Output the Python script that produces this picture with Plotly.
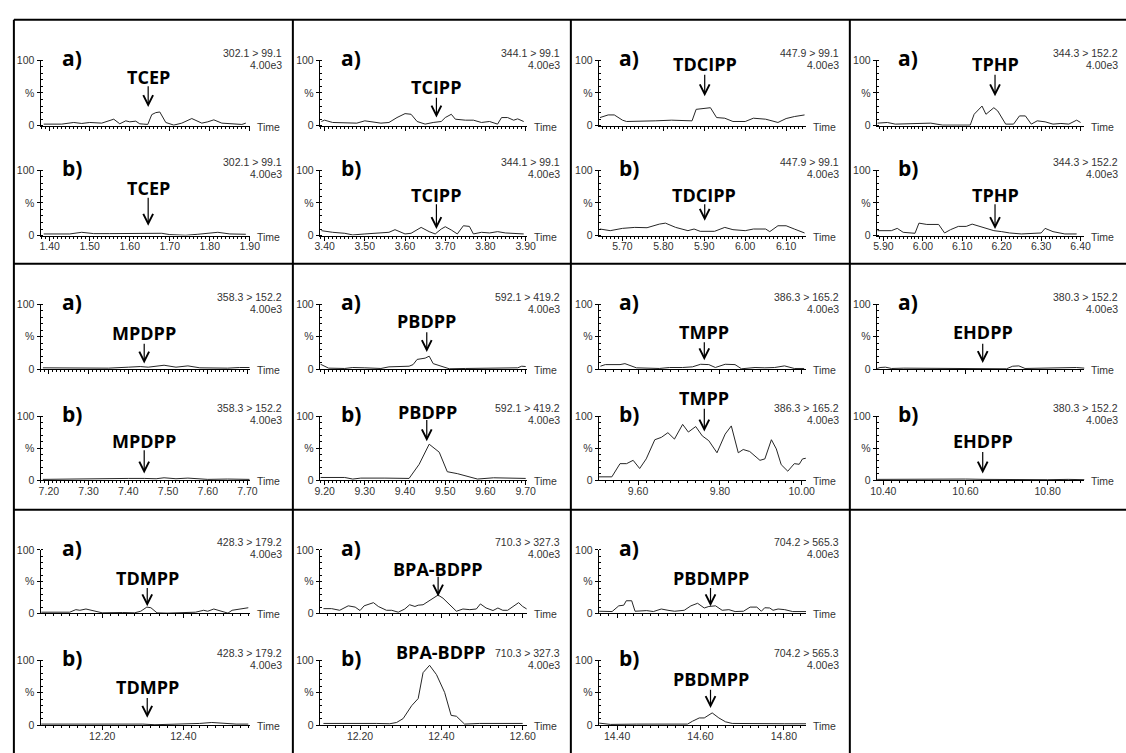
import plotly.graph_objects as go

W, H = 1126, 753

# ---- compounds, MRM transitions and axis settings ----
compounds = ["TCEP", "TCIPP", "TDCIPP", "TPHP", "MPDPP", "PBDPP",
             "TMPP", "EHDPP", "TDMPP", "BPA-BDPP", "PBDMPP"]
transitions = ["302.1 > 99.1", "344.1 > 99.1", "447.9 > 99.1", "344.3 > 152.2",
               "358.3 > 152.2", "592.1 > 419.2", "386.3 > 165.2", "380.3 > 152.2",
               "428.3 > 179.2", "710.3 > 327.3", "704.2 > 565.3"]
intensity_scale = "4.00e3"
time_ranges = [[1.377, 1.9016], [3.388, 3.9027], [5.642, 6.1497], [5.883, 6.4098],
               [7.179, 7.7075], [9.188, 9.7027], [9.504, 10.0117], [10.384, 10.8897],
               [12.048, 12.5654], [12.101, 12.6101], [14.356, 14.8541]]
major_steps = [0.1, 0.1, 0.1, 0.1, 0.1, 0.1, 0.2, 0.2, 0.2, 0.2, 0.2]
y_ticks = [0, 50, 100]
y_ticktext = ["0", "%", "100"]

# retention time marked by the arrow in each panel
arrow_times = [1.646, 3.678, 5.901, 6.183, 7.44, 9.454, 9.762, 10.642, 12.311, 12.392, 14.624]
# compound label / arrow tail / arrow tip heights (% units) for trace a) and b)
label_y_a = [74.5, 59, 93.7, 93.7, 55.6, 74.6, 58, 58, 56.5, 70.6, 56.5]
tail_y_a = [62.5, 45, 80, 80, 41.6, 59.4, 44, 41.6, 42.3, 60.3, 42.3]
tip_y_a = [28.5, 12.6, 45, 45, 8.7, 26.3, 13.7, 9.6, 11.3, 26.8, 11.3]
label_y_b = [72.5, 62.4, 61.5, 61.5, 60.3, 106, 127.5, 60.3, 58.1, 112.6, 72]
tail_y_b = [60, 50, 50, 50, 48.8, 96, 113.6, 46, 44, None, 57]
tip_y_b = [15, 10, 22.5, 10, 10.3, 60.6, 75.8, 10.3, 11.2, None, 26.5]
label_x_b = [1.646, 3.678, 5.899, 6.183, 7.44, 9.455, 9.761, 10.642, 12.311, 12.40, 14.624]

# ---- chromatogram traces (time in min, relative intensity in %) ----
tcep_a_t = [1.385, 1.40, 1.43, 1.46, 1.48, 1.50, 1.53, 1.56, 1.575, 1.59, 1.60, 1.615, 1.625, 1.635, 1.645,
            1.655, 1.665, 1.675, 1.69, 1.71, 1.73, 1.755, 1.78, 1.795, 1.81, 1.83, 1.86, 1.88, 1.89]
tcep_a_y = [2.5, 2.5, 2.5, 5, 3.5, 5, 4, 10, 3, 7.5, 6, 7, 3, 2.5, 2,
            17, 20, 21, 5, 1, 4, 11, 4, 6, 9, 4, 3, 2, 4]
tcep_b_t = [1.385, 1.42, 1.45, 1.48, 1.51, 1.55, 1.60, 1.62, 1.65, 1.68, 1.70, 1.72, 1.74, 1.77,
            1.80, 1.82, 1.85, 1.87, 1.89]
tcep_b_y = [2.5, 2, 2.5, 5, 3, 3, 3, 3.5, 4, 3.5, 1.5, 1, 0.5, 2, 4, 5, 2.5, 2, 2]

tcipp_a_t = [3.392, 3.40, 3.42, 3.45, 3.48, 3.50, 3.52, 3.54, 3.56, 3.58, 3.60, 3.615, 3.63, 3.65, 3.67,
             3.69, 3.70, 3.715, 3.725, 3.75, 3.77, 3.79, 3.81, 3.83, 3.84, 3.855, 3.87, 3.88, 3.895]
tcipp_a_y = [6.5, 8.5, 5, 4, 4, 7.5, 6, 4, 5, 12.5, 18.5, 17.5, 6.5, 2.5, 5,
             6.5, 12.5, 17.5, 10, 8.5, 8.5, 5, 6.5, 2.5, 12.5, 12.5, 8.5, 10.5, 6.5]
tcipp_b_t = [3.392, 3.42, 3.45, 3.47, 3.50, 3.53, 3.56, 3.575, 3.60, 3.615, 3.64, 3.66, 3.675, 3.69,
             3.70, 3.715, 3.73, 3.745, 3.76, 3.77, 3.79, 3.81, 3.83, 3.85, 3.87, 3.895]
tcipp_b_y = [7.5, 5, 3.5, 1, 2.5, 4, 5, 9, 2.5, 3.5, 12.5, 6, 2.5, 10,
             13.5, 8.5, 2.5, 15, 14, 2.5, 5, 4, 6, 4, 3, 2.5]

tdcipp_a_t = [5.645, 5.665, 5.68, 5.70, 5.71, 5.73, 5.75, 5.78, 5.82, 5.85, 5.87, 5.88, 5.90, 5.915,
              5.93, 5.95, 5.97, 6.00, 6.02, 6.05, 6.08, 6.10, 6.12, 6.145]
tdcipp_a_y = [12.5, 16.5, 16.5, 8.5, 6.5, 6.5, 7.5, 7.5, 8.5, 8.5, 7.5, 25, 26, 27.5,
              12.5, 11.5, 6.5, 6.5, 11.5, 10, 5, 11, 14, 16.5]
tdcipp_b_t = [5.645, 5.67, 5.70, 5.73, 5.76, 5.79, 5.805, 5.83, 5.86, 5.875, 5.89, 5.91, 5.925, 5.95,
              5.97, 6.00, 6.02, 6.05, 6.06, 6.08, 6.10, 6.12, 6.145]
tdcipp_b_y = [10, 7.5, 11, 12.5, 12, 17.5, 19, 12.5, 7.5, 10, 6.5, 6.5, 6.5, 12.5,
              9, 7.5, 10, 10, 6, 15, 15, 10, 4]

tphp_a_t = [5.885, 5.91, 5.93, 5.96, 5.99, 6.02, 6.05, 6.08, 6.12, 6.13, 6.15, 6.16, 6.18, 6.19,
            6.21, 6.23, 6.245, 6.26, 6.275, 6.29, 6.31, 6.33, 6.35, 6.37, 6.39, 6.40]
tphp_a_y = [4, 5, 2.5, 3, 4, 4, 1, 1, 1, 17.5, 30, 17.5, 27.5, 22.5,
            2.5, 2.5, 15, 15, 2.5, 7.5, 6, 2.5, 3.5, 2.5, 8.5, 5]
tphp_b_t = [5.885, 5.92, 5.935, 5.95, 5.98, 5.99, 6.01, 6.04, 6.055, 6.07, 6.09, 6.11, 6.125, 6.14,
            6.16, 6.18, 6.20, 6.22, 6.25, 6.28, 6.30, 6.31, 6.33, 6.36, 6.39]
tphp_b_y = [7.5, 7.5, 11, 5, 3.5, 19, 17, 17, 4, 9, 14, 14, 17.5, 15,
            11, 7.5, 6, 4, 2.5, 4, 4, 11, 6, 2.5, 2.5]

mpdpp_a_t = [7.185, 7.22, 7.25, 7.30, 7.35, 7.40, 7.43, 7.45, 7.47, 7.49, 7.52, 7.55, 7.58, 7.62,
             7.65, 7.68, 7.705]
mpdpp_a_y = [2, 2, 2, 2.5, 1.5, 3, 4, 3, 4, 6, 3, 5, 2, 1.5, 1.5, 2.5, 2.5]
mpdpp_b_t = [7.185, 7.25, 7.30, 7.35, 7.40, 7.44, 7.47, 7.49, 7.52, 7.55, 7.60, 7.65, 7.705]
mpdpp_b_y = [1, 1.5, 2.5, 3, 2.5, 2.5, 2, 3.5, 2, 3, 1, 1.5, 1]

pbdpp_a_t = [9.19, 9.21, 9.25, 9.27, 9.30, 9.34, 9.36, 9.39, 9.41, 9.42, 9.43, 9.45, 9.46, 9.47,
             9.49, 9.51, 9.55, 9.60, 9.63, 9.66, 9.68, 9.69, 9.70]
pbdpp_a_y = [7.5, 1.5, 1, 2.5, 2, 1, 3.5, 3.5, 4.5, 7, 15, 17, 20, 8.5,
             4.5, 0.5, 1, 1.5, 2, 1.5, 2, 4.5, 4]
pbdpp_b_t = [9.19, 9.25, 9.27, 9.29, 9.35, 9.41, 9.435, 9.46, 9.485, 9.495, 9.505, 9.53, 9.55,
             9.58, 9.62, 9.65, 9.68, 9.70]
pbdpp_b_y = [4, 4, 1.5, 3, 3, 2.5, 24.5, 56, 43.5, 27, 13, 10, 6.5, 1.5, 3.5, 3, 3.5, 2.5]

tmpp_a_t = [9.508, 9.52, 9.556, 9.568, 9.596, 9.628, 9.652, 9.677, 9.693, 9.709, 9.733, 9.753,
            9.773, 9.789, 9.813, 9.837, 9.853, 9.886, 9.91, 9.934, 9.958, 9.982, 10.006]
tmpp_a_y = [4.5, 7, 7, 8.5, 2, 2, 1, 2.5, 2, 2.5, 3.5, 7.5,
            7, 2.5, 7.5, 7, 0.5, 2.5, 2, 2.5, 5, 1, 1]
tmpp_b_t = [9.504, 9.536, 9.556, 9.572, 9.588, 9.604, 9.62, 9.641, 9.657, 9.673, 9.689, 9.709,
            9.723, 9.741, 9.757, 9.773, 9.793, 9.813, 9.828, 9.845, 9.857, 9.873, 9.898, 9.91,
            9.926, 9.938, 9.95, 9.966, 9.982, 9.994, 10.002, 10.01]
tmpp_b_y = [5, 5, 25.6, 25.6, 30.8, 18, 33, 63, 66.7, 74, 64, 87,
            75, 83.6, 69, 61.5, 42.6, 71.8, 84.6, 42.6, 47.7, 44.6, 30.8, 33,
            63, 48.7, 24, 13.8, 25.6, 24.6, 33, 34]

ehdpp_a_t = [10.385, 10.392, 10.405, 10.42, 10.45, 10.48, 10.50, 10.55, 10.58, 10.62, 10.65,
             10.68, 10.70, 10.715, 10.73, 10.745, 10.78, 10.82, 10.85, 10.87, 10.89]
ehdpp_a_y = [1, 2.5, 3, 1, 1.5, 1.5, 0.5, 0.5, 1, 1, 1, 1.5, 0.5, 4.5, 5, 1, 1.5, 1, 2, 2.5, 1.5]
ehdpp_b_t = [10.385, 10.45, 10.50, 10.56, 10.60, 10.65, 10.70, 10.75, 10.80, 10.85, 10.89]
ehdpp_b_y = [1, 1.5, 1, 1.5, 1.5, 1, 0.5, 0.5, 0.5, 1, 0.5]

tdmpp_a_t = [12.05, 12.08, 12.12, 12.135, 12.145, 12.16, 12.18, 12.20, 12.25, 12.28, 12.295, 12.31,
             12.32, 12.335, 12.36, 12.40, 12.43, 12.45, 12.46, 12.475, 12.49, 12.51, 12.52, 12.54, 12.56]
tdmpp_a_y = [2, 2, 2, 6, 5, 7, 3.5, 1, 1.5, 1, 3.5, 10,
             9, 1, 0.5, 1, 2, 5, 3.5, 7, 4.5, 0.5, 5, 7, 9]
tdmpp_b_t = [12.05, 12.10, 12.15, 12.20, 12.25, 12.30, 12.33, 12.36, 12.40, 12.44, 12.47, 12.50,
             12.53, 12.56]
tdmpp_b_y = [1.5, 1.5, 1, 2, 1.5, 1.5, 0.5, 1, 1.5, 2.5, 4, 2.5, 1.5, 1.5]

bpa_bdpp_a_t = [12.11, 12.13, 12.15, 12.171, 12.188, 12.20, 12.21, 12.233, 12.245, 12.265, 12.278,
                12.294, 12.31, 12.322, 12.335, 12.343, 12.355, 12.371, 12.392, 12.404, 12.42, 12.437,
                12.453, 12.47, 12.486, 12.496, 12.51, 12.527, 12.539, 12.551, 12.563, 12.577, 12.59,
                12.60, 12.61]
bpa_bdpp_a_y = [7.6, 7.6, 5, 12, 10, 4.6, 12, 17, 11, 5, 5,
                2, 7, 13.7, 11, 13, 13.7, 20, 29, 24, 13.7, 3.5,
                7, 6, 7, 15, 8.6, 4.6, 8.6, 5, 5, 12, 17,
                11, 7]
bpa_bdpp_b_t = [12.11, 12.15, 12.18, 12.208, 12.24, 12.273, 12.29, 12.306, 12.327, 12.343, 12.355,
                12.371, 12.388, 12.408, 12.424, 12.437, 12.457, 12.494, 12.535, 12.567, 12.60]
bpa_bdpp_b_y = [2.5, 2.5, 3.5, 2.5, 2.5, 2, 4, 10, 30, 41, 81,
                92.4, 78, 50.5, 15, 13.6, 1.5, 2.5, 2.5, 2.5, 2.5]

pbdmpp_a_t = [14.357, 14.376, 14.388, 14.404, 14.416, 14.422, 14.435, 14.443, 14.471, 14.487, 14.506,
              14.522, 14.538, 14.561, 14.577, 14.593, 14.609, 14.62, 14.636, 14.652, 14.668, 14.683,
              14.703, 14.719, 14.735, 14.746, 14.754, 14.766, 14.774, 14.786, 14.802, 14.821, 14.841,
              14.853]
pbdmpp_a_y = [3.5, 2.5, 3, 12, 13, 20, 20, 3.5, 4.5, 3, 7,
              5, 3.5, 5, 12, 16, 8.6, 11, 12, 5, 6, 3,
              3.5, 10, 10, 3.5, 9, 8.6, 5, 7, 6, 3, 3,
              3]
pbdmpp_b_t = [14.357, 14.384, 14.447, 14.526, 14.569, 14.581, 14.597, 14.609, 14.628, 14.644, 14.66,
              14.676, 14.715, 14.762, 14.802, 14.853]
pbdmpp_b_y = [3, 1, 1.5, 1.5, 1.5, 6, 11, 11, 18.8, 11, 5, 2.5, 2, 2, 2, 2]

traces_a = [(tcep_a_t, tcep_a_y), (tcipp_a_t, tcipp_a_y), (tdcipp_a_t, tdcipp_a_y),
            (tphp_a_t, tphp_a_y), (mpdpp_a_t, mpdpp_a_y), (pbdpp_a_t, pbdpp_a_y),
            (tmpp_a_t, tmpp_a_y), (ehdpp_a_t, ehdpp_a_y), (tdmpp_a_t, tdmpp_a_y),
            (bpa_bdpp_a_t, bpa_bdpp_a_y), (pbdmpp_a_t, pbdmpp_a_y)]
traces_b = [(tcep_b_t, tcep_b_y), (tcipp_b_t, tcipp_b_y), (tdcipp_b_t, tdcipp_b_y),
            (tphp_b_t, tphp_b_y), (mpdpp_b_t, mpdpp_b_y), (pbdpp_b_t, pbdpp_b_y),
            (tmpp_b_t, tmpp_b_y), (ehdpp_b_t, ehdpp_b_y), (tdmpp_b_t, tdmpp_b_y),
            (bpa_bdpp_b_t, bpa_bdpp_b_y), (pbdmpp_b_t, pbdmpp_b_y)]

# ---- page geometry (pixels) ----
borders_x = [8, 291, 573, 856, 1139]
borders_y = [14, 262, 512]
plot_left = [35, 318.3, 601.3, 883.3]
plot_right = [248, 528.3, 812, 1094]
top_a = [55, 303.3, 552.7]
bot_a = [121.7, 369, 617.3]
top_b = [166.7, 416.7, 665]
bot_b = [233.3, 481.7, 730.7]

SMALL = dict(family="Arial, Liberation Sans, sans-serif", size=10.5, color="#333333")
NAME = dict(family="Open Sans, sans-serif", size=18, color="black", weight="bold")
TAG = dict(family="Open Sans, sans-serif", size=21, color="black", weight="bold")

fig = go.Figure()
layout = dict(width=W, height=H, autosize=False, margin=dict(l=0, r=0, t=0, b=0, pad=0),
              paper_bgcolor="white", plot_bgcolor="white", showlegend=False)
annotations = []
shapes = []


def px_x(v):
    return v / W


def px_y(v):
    return 1 - v / H


def pct_to_px(v, top, bot):
    return bot - v * (bot - top) / 100.0


for p in range(len(compounds)):
    row, col = divmod(p, 4)
    for s, (tops, bots, trace, tag) in enumerate(
            [(top_a, bot_a, traces_a[p], "a)"), (top_b, bot_b, traces_b[p], "b)")]):
        k = 2 * p + s + 1
        xn, yn = f"x{k}", f"y{k}"
        top, bot = tops[row], bots[row]
        step = major_steps[p]
        layout[f"xaxis{k}"] = dict(
            domain=[px_x(plot_left[col]), px_x(plot_right[col])],
            range=time_ranges[p], anchor=yn, showline=True, linecolor="black", linewidth=1,
            ticks="outside", ticklen=4, tickwidth=1, tickcolor="black",
            tick0=0, dtick=step, tickformat=".2f", showticklabels=(s == 1),
            tickfont=SMALL, ticklabelstandoff=-3, showgrid=False, zeroline=False,
            minor=dict(ticks="outside", ticklen=2, tickcolor="black", tickwidth=1,
                       tick0=0, dtick=step / 10, showgrid=False),
            fixedrange=True)
        layout[f"yaxis{k}"] = dict(
            domain=[px_y(bot), px_y(top)], range=[0, 100], anchor=xn,
            showline=True, linecolor="black", linewidth=1,
            tickmode="array", tickvals=y_ticks, ticktext=y_ticktext,
            ticks="outside", ticklen=3, tickwidth=1, tickcolor="black",
            tickfont=SMALL, showgrid=False, zeroline=False,
            minor=dict(ticks="inside", ticklen=2, tickcolor="black", tickwidth=1,
                       tickmode="linear", tick0=0, dtick=10, showgrid=False),
            fixedrange=True)

        fig.add_trace(go.Scatter(x=trace[0], y=trace[1], mode="lines", xaxis=xn, yaxis=yn,
                                 line=dict(color="#262626", width=1), hoverinfo="skip"))

        # a) / b) tag
        annotations.append(dict(text=tag, xref="paper", yref="paper",
                                x=px_x(borders_x[col] + 47), y=px_y(top - 2),
                                xanchor="left", yanchor="middle", showarrow=False, font=TAG))
        # transition and intensity scale in the top-right corner
        annotations.append(dict(text=transitions[p], xref="paper", yref="paper",
                                x=px_x(borders_x[col + 1] - 9), y=px_y(top - 7.7),
                                xanchor="right", yanchor="middle", showarrow=False, font=SMALL))
        annotations.append(dict(text=intensity_scale, xref="paper", yref="paper",
                                x=px_x(borders_x[col + 1] - 9), y=px_y(top + 4.5),
                                xanchor="right", yanchor="middle", showarrow=False, font=SMALL))
        # "Time" at the end of the x axis
        annotations.append(dict(text="Time", xref="paper", yref="paper",
                                x=px_x(plot_right[col] + 5), y=px_y(bot + 1),
                                xanchor="left", yanchor="middle", showarrow=False, font=SMALL))

        # compound label and arrow
        if s == 0:
            lx, ly, tail, tip = arrow_times[p], label_y_a[p], tail_y_a[p], tip_y_a[p]
        else:
            lx, ly, tail, tip = label_x_b[p], label_y_b[p], tail_y_b[p], tip_y_b[p]
        annotations.append(dict(text=compounds[p], xref=xn, yref="paper", x=lx,
                                y=px_y(pct_to_px(ly, top, bot)),
                                xanchor="center", yanchor="middle", showarrow=False, font=NAME))
        if tip is not None:
            annotations.append(dict(text="", xref=xn, yref=yn, x=arrow_times[p], y=tip,
                                    axref=xn, ayref=yn, ax=arrow_times[p], ay=tail,
                                    showarrow=True, arrowhead=5, arrowsize=1.6, arrowwidth=1.2,
                                    arrowcolor="black", standoff=0, startstandoff=0))

# cell frame
line = dict(color="black", width=2)
for bx in borders_x[:4]:
    shapes.append(dict(type="line", xref="paper", yref="paper",
                       x0=px_x(bx), x1=px_x(bx), y0=px_y(borders_y[0]), y1=-0.02, line=line))
for by in borders_y:
    shapes.append(dict(type="line", xref="paper", yref="paper",
                       x0=px_x(borders_x[0]), x1=1.02, y0=px_y(by), y1=px_y(by), line=line))

layout["annotations"] = annotations
layout["shapes"] = shapes
fig.update_layout(**layout)
fig.write_html("out.html", config={"displayModeBar": False})
